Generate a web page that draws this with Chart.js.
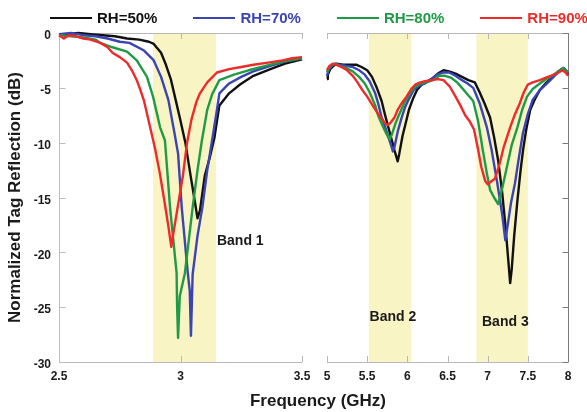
<!DOCTYPE html>
<html>
<head>
<meta charset="utf-8">
<script src="https://cdn.jsdelivr.net/npm/chart.js@4.4.1/dist/chart.umd.min.js"></script>
<style>
  body { margin: 0; background: #fff; font-family: "Liberation Sans", Arial, sans-serif; }
  #wrap { position: relative; width: 587px; height: 412px; overflow: hidden; }
  #wrap canvas { position: absolute; left: 0; top: 0; }
  #legend { position: absolute; left: 50px; top: 9px; display: flex; gap: 36px; font-weight: bold; font-size: 15px; }
  #legend .item { display: flex; align-items: center; }
  #legend .swatch { width: 42px; height: 2px; margin-right: 5px; }
  #xtitle { position: absolute; left: 218px; width: 200px; top: 391px; text-align: center; font-weight: bold; font-size: 17px; color: #1a1a1a; }
</style>
</head>
<body>
<div id="wrap">
  <canvas id="lowChart" width="587" height="395"></canvas>
  <canvas id="highChart" width="587" height="395"></canvas>
  <div id="legend"></div>
  <div id="xtitle">Frequency (GHz)</div>
</div>
<script>
// series names / colours
const seriesNames = ['RH=50%', 'RH=70%', 'RH=80%', 'RH=90%'];
const seriesColors = ['#111111', '#3a44b2', '#1f9a45', '#ee2a2a'];

// axis ranges (GHz, dB)
const lowRange = [2.5, 3.5];
const highRange = [5, 8];
const dbRange = [-30, 0];

// shaded bands (GHz)
const lowBands = [[2.887, 3.146]];
const highBands = [[5.52, 6.05], [6.86, 7.5]];
const bandLabelText = ['Band 1', 'Band 2', 'Band 3'];
const bandLabelFreq = [3.15, 5.82, 7.22];
const bandLabelDb = [-19, -25.9, -26.4];

// 2.5 - 3.5 GHz panel, [GHz, dB]
const rh50Low = [[2.50,-0.2],[2.53,-0.1],[2.58,0],[2.63,-0.1],[2.68,-0.2],[2.73,-0.3],[2.78,-0.5],[2.83,-0.6],[2.87,-0.8],[2.89,-1.0],[2.92,-1.8],[2.94,-2.9],[2.96,-4.2],[2.98,-6.1],[3.00,-8.0],[3.02,-10.0],[3.04,-12.8],[3.06,-15.5],[3.07,-16.9],[3.08,-16.2],[3.10,-13.0],[3.12,-11.4],[3.14,-9.5],[3.16,-6.6],[3.20,-5.5],[3.245,-4.7],[3.30,-3.9],[3.37,-3.3],[3.43,-2.8],[3.50,-2.4]];
const rh70Low = [[2.50,-0.1],[2.55,0],[2.60,-0.2],[2.65,-0.3],[2.70,-0.5],[2.75,-0.8],[2.79,-0.9],[2.85,-1.6],[2.89,-2.5],[2.92,-4.0],[2.95,-6.1],[2.975,-9.1],[2.99,-11.0],[3.005,-15.9],[3.03,-21.9],[3.038,-23.5],[3.043,-27.6],[3.05,-22.0],[3.07,-18.5],[3.09,-15.9],[3.11,-12.5],[3.13,-9.8],[3.15,-7.0],[3.16,-5.5],[3.20,-4.6],[3.25,-4.0],[3.30,-3.5],[3.37,-3.0],[3.43,-2.6],[3.50,-2.3]];
const rh80Low = [[2.50,-0.2],[2.55,-0.3],[2.60,-0.4],[2.65,-0.6],[2.67,-0.9],[2.72,-1.3],[2.78,-1.7],[2.82,-2.5],[2.862,-4.0],[2.887,-5.8],[2.916,-8.6],[2.936,-9.8],[2.957,-15.9],[2.984,-21.9],[2.986,-24.9],[2.99,-27.8],[2.997,-24.0],[3.018,-21.9],[3.05,-15.9],[3.07,-12.5],[3.088,-9.8],[3.11,-7.0],[3.13,-5.6],[3.16,-4.3],[3.22,-3.8],[3.28,-3.4],[3.35,-3.0],[3.42,-2.6],[3.50,-2.3]];
const rh90Low = [[2.50,-0.2],[2.52,-0.5],[2.54,-0.2],[2.57,-0.3],[2.60,-0.5],[2.63,-0.6],[2.67,-0.9],[2.70,-1.3],[2.72,-1.8],[2.75,-2.2],[2.78,-2.7],[2.80,-3.4],[2.82,-4.3],[2.835,-5.2],[2.85,-6.2],[2.875,-8.6],[2.895,-10.5],[2.915,-12.8],[2.935,-15.5],[2.95,-17.6],[2.962,-19.5],[2.968,-18.6],[2.98,-17.0],[2.995,-15.0],[3.01,-13.0],[3.027,-10.0],[3.045,-7.9],[3.065,-6.3],[3.08,-5.5],[3.11,-4.5],[3.15,-3.6],[3.20,-3.3],[3.25,-3.1],[3.30,-2.9],[3.36,-2.7],[3.42,-2.5],[3.46,-2.3],[3.50,-2.2]];

// 5 - 8 GHz panel, [GHz, dB]
const rh50High = [[5.00,-4.2],[5.01,-3.8],[5.04,-3.3],[5.08,-3.0],[5.12,-2.8],[5.20,-2.9],[5.30,-2.9],[5.37,-2.9],[5.43,-3.1],[5.50,-3.4],[5.56,-4.0],[5.62,-5.0],[5.68,-6.2],[5.72,-7.4],[5.76,-8.5],[5.80,-9.6],[5.84,-10.7],[5.88,-11.7],[5.90,-11.0],[5.94,-9.4],[5.98,-8.2],[6.02,-7.0],[6.07,-6.0],[6.12,-5.2],[6.18,-4.7],[6.25,-4.4],[6.32,-4.1],[6.38,-3.7],[6.45,-3.4],[6.52,-3.5],[6.60,-3.7],[6.68,-4.0],[6.76,-4.3],[6.84,-4.5],[6.90,-5.4],[6.96,-6.4],[7.03,-7.7],[7.08,-9.5],[7.13,-11.6],[7.18,-14.5],[7.22,-17.5],[7.26,-21.0],[7.28,-22.8],[7.30,-21.5],[7.33,-18.5],[7.37,-15.3],[7.41,-12.5],[7.44,-10.7],[7.48,-8.8],[7.53,-7.0],[7.59,-6.0],[7.65,-5.2],[7.72,-4.6],[7.81,-4.0],[7.88,-3.5],[7.94,-3.2],[7.97,-3.4],[8.00,-3.8]];
const rh70High = [[5.00,-3.9],[5.02,-3.4],[5.06,-3.0],[5.10,-2.8],[5.16,-2.9],[5.24,-3.0],[5.32,-3.1],[5.40,-3.4],[5.47,-3.8],[5.53,-4.4],[5.60,-5.5],[5.64,-6.5],[5.68,-7.7],[5.72,-8.5],[5.76,-9.4],[5.80,-10.3],[5.82,-10.8],[5.84,-10.4],[5.88,-9.0],[5.93,-7.7],[5.97,-6.8],[6.02,-6.0],[6.08,-5.2],[6.15,-4.8],[6.22,-4.6],[6.30,-4.2],[6.37,-3.8],[6.45,-3.6],[6.52,-3.6],[6.60,-3.9],[6.68,-4.3],[6.75,-4.6],[6.82,-5.0],[6.90,-6.4],[6.99,-8.6],[7.05,-10.7],[7.12,-13.7],[7.18,-16.5],[7.22,-18.9],[7.25,-17.5],[7.29,-15.5],[7.34,-13.7],[7.39,-11.3],[7.44,-9.1],[7.50,-7.4],[7.56,-6.1],[7.65,-5.2],[7.74,-4.6],[7.82,-4.0],[7.90,-3.4],[7.95,-3.2],[8.00,-3.6]];
const rh80High = [[5.00,-3.6],[5.02,-3.2],[5.06,-2.9],[5.10,-2.8],[5.16,-3.0],[5.24,-3.2],[5.32,-3.5],[5.40,-4.0],[5.47,-4.6],[5.53,-5.4],[5.60,-6.6],[5.64,-7.6],[5.70,-8.6],[5.74,-9.2],[5.78,-9.7],[5.81,-9.2],[5.85,-8.3],[5.90,-7.4],[5.96,-6.4],[6.03,-5.5],[6.10,-4.9],[6.17,-4.6],[6.24,-4.5],[6.32,-4.3],[6.40,-3.9],[6.47,-3.9],[6.55,-4.1],[6.62,-4.5],[6.68,-5.0],[6.75,-5.6],[6.82,-6.2],[6.88,-8.0],[6.94,-10.7],[6.99,-12.8],[7.03,-14.3],[7.08,-15.0],[7.13,-15.6],[7.18,-14.2],[7.24,-12.2],[7.30,-10.2],[7.37,-8.6],[7.43,-7.0],[7.49,-5.8],[7.56,-5.1],[7.65,-4.6],[7.73,-4.2],[7.80,-3.9],[7.88,-3.5],[7.94,-3.2],[8.00,-3.6]];
const rh90High = [[5.00,-3.4],[5.03,-3.0],[5.07,-2.8],[5.12,-2.9],[5.18,-3.1],[5.25,-3.4],[5.32,-3.9],[5.38,-4.5],[5.44,-5.2],[5.50,-5.8],[5.56,-6.5],[5.62,-7.2],[5.68,-7.8],[5.72,-8.2],[5.76,-8.4],[5.80,-8.1],[5.84,-7.7],[5.88,-7.0],[5.93,-6.4],[5.99,-5.8],[6.05,-5.1],[6.10,-4.7],[6.16,-4.5],[6.22,-4.4],[6.30,-4.3],[6.38,-4.2],[6.45,-4.3],[6.53,-4.9],[6.60,-5.8],[6.66,-6.6],[6.72,-7.5],[6.78,-8.1],[6.83,-8.8],[6.88,-10.6],[6.92,-12.2],[6.97,-13.5],[7.00,-13.8],[7.05,-13.5],[7.09,-13.3],[7.12,-12.6],[7.15,-11.9],[7.20,-10.4],[7.28,-8.6],[7.34,-7.4],[7.40,-6.4],[7.45,-5.4],[7.50,-4.7],[7.56,-4.5],[7.65,-4.3],[7.75,-4.0],[7.86,-3.7],[7.93,-3.4],[7.97,-3.6],[8.00,-3.9]];

const lowSeries = [rh50Low, rh70Low, rh80Low, rh90Low];
const highSeries = [rh50High, rh70High, rh80High, rh90High];

// legend
const legendEl = document.getElementById('legend');
seriesNames.forEach((name, i) => {
    const item = document.createElement('div');
    item.className = 'item';
    item.innerHTML = '<span class="swatch" style="background:' + seriesColors[i] + '"></span><span style="color:' + seriesColors[i] + '">' + name + '</span>';
    legendEl.appendChild(item);
});

const tickFont = { family: '"Liberation Sans", Arial, sans-serif', size: 12, weight: 'bold' };

// bands, frame, inward ticks and band labels
const panelDecor = {
    id: 'panelDecor',
    beforeDatasetsDraw(chart, args, opts) {
        const { ctx, chartArea: a, scales: { x, y } } = chart;
        ctx.save();
        ctx.fillStyle = '#f8f4c4';
        opts.bands.forEach(b => {
            const x0 = x.getPixelForValue(b[0]);
            const x1 = x.getPixelForValue(b[1]);
            ctx.fillRect(x0, a.top, x1 - x0, a.bottom - a.top);
        });

        ctx.lineWidth = 1;
        ctx.strokeStyle = '#b8b8b8';
        ctx.beginPath();
        ctx.moveTo(a.left, a.top + 0.5); ctx.lineTo(a.right, a.top + 0.5);
        ctx.moveTo(a.left, a.bottom + 0.5); ctx.lineTo(a.right, a.bottom + 0.5);
        x.ticks.forEach(t => {
            const px = Math.round(x.getPixelForValue(t.value)) + 0.5;
            ctx.moveTo(px, a.top); ctx.lineTo(px, a.top + 6);
            ctx.moveTo(px, a.bottom); ctx.lineTo(px, a.bottom - 6);
        });
        ctx.stroke();

        const sx = (opts.side === 'left' ? a.left : a.right) + 0.5;
        const dir = opts.side === 'left' ? 1 : -1;
        ctx.strokeStyle = opts.sideColor;
        ctx.beginPath();
        ctx.moveTo(sx, a.top); ctx.lineTo(sx, a.bottom);
        y.ticks.forEach(t => {
            const py = Math.round(y.getPixelForValue(t.value)) + 0.5;
            ctx.moveTo(sx, py); ctx.lineTo(sx + dir * 6, py);
        });
        ctx.stroke();
        ctx.restore();
    },
    afterDatasetsDraw(chart, args, opts) {
        const { ctx, scales: { x, y } } = chart;
        ctx.save();
        ctx.fillStyle = '#1a1a1a';
        ctx.font = 'bold 14px "Liberation Sans", Arial, sans-serif';
        ctx.textBaseline = 'middle';
        opts.labels.forEach(l => {
            ctx.textAlign = l.align;
            ctx.fillText(l.text, x.getPixelForValue(l.x), y.getPixelForValue(l.y));
        });
        ctx.restore();
    }
};

function makeDatasets(series) {
    return series.map((pts, i) => ({
        label: seriesNames[i],
        data: pts.map(p => ({ x: p[0], y: p[1] })),
        borderColor: seriesColors[i],
        borderWidth: 2.4,
        pointRadius: 0,
        tension: 0,
        borderJoinStyle: 'round',
        clip: 4
    }));
}

function xScale(range) {
    return {
        type: 'linear', min: range[0], max: range[1],
        grid: { display: false, drawTicks: false },
        border: { display: false },
        ticks: {
            stepSize: 0.5, font: tickFont, color: '#1a1a1a', padding: 7, maxRotation: 0, autoSkip: false,
            callback: v => String(v)
        },
        afterFit: s => { s.height = 33; }
    };
}

// reverse order so red is drawn under black like the original
function ordered(ds) { return ds.slice().reverse(); }

new Chart(document.getElementById('lowChart'), {
    type: 'line',
    data: { datasets: ordered(makeDatasets(lowSeries)) },
    options: {
        responsive: false, animation: false, events: [],
        layout: { padding: { top: 33, right: 587 - 302, left: 0, bottom: 0 } },
        plugins: {
            legend: { display: false }, tooltip: { enabled: false },
            panelDecor: {
                bands: lowBands, side: 'left', sideColor: '#bdbdbd',
                labels: [{ text: bandLabelText[0], x: bandLabelFreq[0], y: bandLabelDb[0], align: 'left' }]
            }
        },
        scales: {
            x: xScale(lowRange),
            y: {
                min: dbRange[0], max: dbRange[1],
                grid: { display: false, drawTicks: false },
                border: { display: false },
                ticks: { stepSize: 5, font: tickFont, color: '#1a1a1a', padding: 8, labelOffset: 3 },
                title: {
                    display: true, text: 'Normalized Tag Reflection (dB)', color: '#1a1a1a',
                    font: { family: '"Liberation Sans", Arial, sans-serif', size: 17, weight: 'bold' },
                    padding: { top: 5, bottom: 0 }
                },
                afterFit: s => { s.width = 59; }
            }
        }
    },
    plugins: [panelDecor]
});

new Chart(document.getElementById('highChart'), {
    type: 'line',
    data: { datasets: ordered(makeDatasets(highSeries)) },
    options: {
        responsive: false, animation: false, events: [],
        layout: { padding: { top: 33, right: 587 - 568, left: 327, bottom: 0 } },
        plugins: {
            legend: { display: false }, tooltip: { enabled: false },
            panelDecor: {
                bands: highBands, side: 'right', sideColor: '#7a7a7a',
                labels: [
                    { text: bandLabelText[1], x: bandLabelFreq[1], y: bandLabelDb[1], align: 'center' },
                    { text: bandLabelText[2], x: bandLabelFreq[2], y: bandLabelDb[2], align: 'center' }
                ]
            }
        },
        scales: {
            x: xScale(highRange),
            y: { display: false, min: dbRange[0], max: dbRange[1], ticks: { stepSize: 5 } }
        }
    },
    plugins: [panelDecor]
});
</script>
</body>
</html>
